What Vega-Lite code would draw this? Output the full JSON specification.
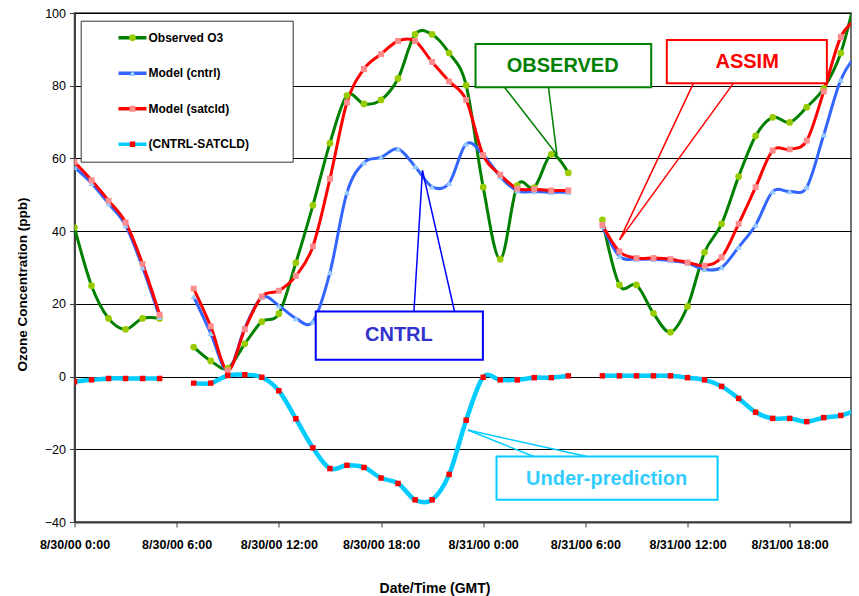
{
  "$schema": "https://vega.github.io/schema/vega-lite/v6.json",
  "width": 776.5,
  "height": 509,
  "autosize": {"type": "none"},
  "padding": {"left": 74.5, "top": 13, "right": 8, "bottom": 74},
  "config": {
    "font": "Liberation Sans",
    "view": {"stroke": "#444", "strokeWidth": 1.5}
  },
  "datasets": {
    "ozone": [
      {"t": "2000-08-30T00:00", "seg": 1, "Observed O3": 41, "Model (cntrl)": 57.5, "Model (satcld)": 59.0, "(CNTRL-SATCLD)": -1.4},
      {"t": "2000-08-30T01:00", "seg": 1, "Observed O3": 25, "Model (cntrl)": 53.2, "Model (satcld)": 54.0, "(CNTRL-SATCLD)": -0.9},
      {"t": "2000-08-30T02:00", "seg": 1, "Observed O3": 16, "Model (cntrl)": 47.6, "Model (satcld)": 48.4, "(CNTRL-SATCLD)": -0.5},
      {"t": "2000-08-30T03:00", "seg": 1, "Observed O3": 13, "Model (cntrl)": 41.6, "Model (satcld)": 42.4, "(CNTRL-SATCLD)": -0.5},
      {"t": "2000-08-30T04:00", "seg": 1, "Observed O3": 16, "Model (cntrl)": 30.0, "Model (satcld)": 31.0, "(CNTRL-SATCLD)": -0.5},
      {"t": "2000-08-30T05:00", "seg": 1, "Observed O3": 16, "Model (cntrl)": 16.3, "Model (satcld)": 17.0, "(CNTRL-SATCLD)": -0.5},
      {"t": "2000-08-30T07:00", "seg": 2, "Observed O3": 8.1, "Model (cntrl)": 22.0, "Model (satcld)": 24.2, "(CNTRL-SATCLD)": -1.8},
      {"t": "2000-08-30T08:00", "seg": 2, "Observed O3": 4.3, "Model (cntrl)": 11.9, "Model (satcld)": 13.8, "(CNTRL-SATCLD)": -1.8},
      {"t": "2000-08-30T09:00", "seg": 2, "Observed O3": 2.3, "Model (cntrl)": 1.6, "Model (satcld)": 1.7, "(CNTRL-SATCLD)": 0.3},
      {"t": "2000-08-30T10:00", "seg": 2, "Observed O3": 9.0, "Model (cntrl)": 13.3, "Model (satcld)": 13.0, "(CNTRL-SATCLD)": 0.5},
      {"t": "2000-08-30T11:00", "seg": 2, "Observed O3": 15.1, "Model (cntrl)": 21.8, "Model (satcld)": 22.0, "(CNTRL-SATCLD)": -0.2},
      {"t": "2000-08-30T12:00", "seg": 2, "Observed O3": 17.3, "Model (cntrl)": 19.5, "Model (satcld)": 23.6, "(CNTRL-SATCLD)": -3.9},
      {"t": "2000-08-30T13:00", "seg": 2, "Observed O3": 31.3, "Model (cntrl)": 16.0, "Model (satcld)": 27.7, "(CNTRL-SATCLD)": -11.6},
      {"t": "2000-08-30T14:00", "seg": 2, "Observed O3": 47.1, "Model (cntrl)": 15.1, "Model (satcld)": 35.8, "(CNTRL-SATCLD)": -19.6},
      {"t": "2000-08-30T15:00", "seg": 2, "Observed O3": 64.2, "Model (cntrl)": 28.6, "Model (satcld)": 54.4, "(CNTRL-SATCLD)": -25.3},
      {"t": "2000-08-30T16:00", "seg": 2, "Observed O3": 77.3, "Model (cntrl)": 50.6, "Model (satcld)": 75.4, "(CNTRL-SATCLD)": -24.4},
      {"t": "2000-08-30T17:00", "seg": 2, "Observed O3": 75.0, "Model (cntrl)": 58.9, "Model (satcld)": 84.6, "(CNTRL-SATCLD)": -25.0},
      {"t": "2000-08-30T18:00", "seg": 2, "Observed O3": 76.1, "Model (cntrl)": 60.3, "Model (satcld)": 88.7, "(CNTRL-SATCLD)": -27.9},
      {"t": "2000-08-30T19:00", "seg": 2, "Observed O3": 82.0, "Model (cntrl)": 62.6, "Model (satcld)": 92.3, "(CNTRL-SATCLD)": -29.4},
      {"t": "2000-08-30T20:00", "seg": 2, "Observed O3": 94.1, "Model (cntrl)": 57.8, "Model (satcld)": 92.3, "(CNTRL-SATCLD)": -33.9},
      {"t": "2000-08-30T21:00", "seg": 2, "Observed O3": 94.1, "Model (cntrl)": 52.2, "Model (satcld)": 86.5, "(CNTRL-SATCLD)": -33.9},
      {"t": "2000-08-30T22:00", "seg": 2, "Observed O3": 89.0, "Model (cntrl)": 53.2, "Model (satcld)": 81.2, "(CNTRL-SATCLD)": -26.9},
      {"t": "2000-08-30T23:00", "seg": 2, "Observed O3": 80.1, "Model (cntrl)": 64.0, "Model (satcld)": 76.1, "(CNTRL-SATCLD)": -12.0},
      {"t": "2000-08-31T00:00", "seg": 2, "Observed O3": 52.1, "Model (cntrl)": 61.0, "Model (satcld)": 60.9, "(CNTRL-SATCLD)": -0.2},
      {"t": "2000-08-31T01:00", "seg": 2, "Observed O3": 32.3, "Model (cntrl)": 55.0, "Model (satcld)": 55.5, "(CNTRL-SATCLD)": -0.9},
      {"t": "2000-08-31T02:00", "seg": 2, "Observed O3": 52.5, "Model (cntrl)": 51.1, "Model (satcld)": 51.7, "(CNTRL-SATCLD)": -0.9},
      {"t": "2000-08-31T03:00", "seg": 2, "Observed O3": 52.0, "Model (cntrl)": 50.9, "Model (satcld)": 51.5, "(CNTRL-SATCLD)": -0.3},
      {"t": "2000-08-31T04:00", "seg": 2, "Observed O3": 61.1, "Model (cntrl)": 50.7, "Model (satcld)": 51.2, "(CNTRL-SATCLD)": -0.3},
      {"t": "2000-08-31T05:00", "seg": 2, "Observed O3": 56.0, "Model (cntrl)": 50.7, "Model (satcld)": 51.2, "(CNTRL-SATCLD)": 0.2},
      {"t": "2000-08-31T07:00", "seg": 3, "Observed O3": 43.1, "Model (cntrl)": 41.3, "Model (satcld)": 41.7, "(CNTRL-SATCLD)": 0.2},
      {"t": "2000-08-31T08:00", "seg": 3, "Observed O3": 25.2, "Model (cntrl)": 33.1, "Model (satcld)": 34.4, "(CNTRL-SATCLD)": 0.2},
      {"t": "2000-08-31T09:00", "seg": 3, "Observed O3": 25.2, "Model (cntrl)": 32.3, "Model (satcld)": 32.6, "(CNTRL-SATCLD)": 0.2},
      {"t": "2000-08-31T10:00", "seg": 3, "Observed O3": 17.4, "Model (cntrl)": 32.3, "Model (satcld)": 32.6, "(CNTRL-SATCLD)": 0.2},
      {"t": "2000-08-31T11:00", "seg": 3, "Observed O3": 12.2, "Model (cntrl)": 31.9, "Model (satcld)": 32.3, "(CNTRL-SATCLD)": 0.2},
      {"t": "2000-08-31T12:00", "seg": 3, "Observed O3": 19.3, "Model (cntrl)": 31.2, "Model (satcld)": 31.4, "(CNTRL-SATCLD)": -0.3},
      {"t": "2000-08-31T13:00", "seg": 3, "Observed O3": 34.2, "Model (cntrl)": 29.5, "Model (satcld)": 30.5, "(CNTRL-SATCLD)": -0.9},
      {"t": "2000-08-31T14:00", "seg": 3, "Observed O3": 42.0, "Model (cntrl)": 30.0, "Model (satcld)": 32.8, "(CNTRL-SATCLD)": -2.7},
      {"t": "2000-08-31T15:00", "seg": 3, "Observed O3": 55.0, "Model (cntrl)": 35.6, "Model (satcld)": 42.0, "(CNTRL-SATCLD)": -6.0},
      {"t": "2000-08-31T16:00", "seg": 3, "Observed O3": 66.2, "Model (cntrl)": 41.7, "Model (satcld)": 52.1, "(CNTRL-SATCLD)": -9.8},
      {"t": "2000-08-31T17:00", "seg": 3, "Observed O3": 71.3, "Model (cntrl)": 50.9, "Model (satcld)": 62.2, "(CNTRL-SATCLD)": -11.5},
      {"t": "2000-08-31T18:00", "seg": 3, "Observed O3": 69.9, "Model (cntrl)": 50.9, "Model (satcld)": 62.5, "(CNTRL-SATCLD)": -11.5},
      {"t": "2000-08-31T19:00", "seg": 3, "Observed O3": 74.1, "Model (cntrl)": 52.1, "Model (satcld)": 64.9, "(CNTRL-SATCLD)": -12.4},
      {"t": "2000-08-31T20:00", "seg": 3, "Observed O3": 79.3, "Model (cntrl)": 66.5, "Model (satcld)": 78.4, "(CNTRL-SATCLD)": -11.3},
      {"t": "2000-08-31T21:00", "seg": 3, "Observed O3": 89.0, "Model (cntrl)": 81.6, "Model (satcld)": 93.4, "(CNTRL-SATCLD)": -10.7},
      {"t": "2000-08-31T22:00", "seg": 3, "Observed O3": 107.0, "Model (cntrl)": 89.0, "Model (satcld)": 98.5, "(CNTRL-SATCLD)": -9.0}
    ],
    "boxes": [
      {"label": "OBSERVED", "x1": "2000-08-30T23:33", "x2": "2000-08-31T09:52", "y1": 91.45, "y2": 79.6, "tx": "2000-08-31T04:40", "ty": 85.4},
      {"label": "ASSIM", "x1": "2000-08-31T10:47", "x2": "2000-08-31T20:11", "y1": 92.6, "y2": 80.7, "tx": "2000-08-31T15:30", "ty": 86.6},
      {"label": "CNTRL", "x1": "2000-08-30T14:10", "x2": "2000-08-30T23:59", "y1": 17.9, "y2": 4.6, "tx": "2000-08-30T19:03", "ty": 11.4},
      {"label": "Under-prediction", "x1": "2000-08-31T00:47", "x2": "2000-08-31T13:46", "y1": -22.0, "y2": -33.9, "tx": "2000-08-31T07:15", "ty": -28.1}
    ],
    "callouts": [
      {"label": "OBSERVED", "xa": "2000-08-31T01:15", "ya": 79.6, "xb": "2000-08-31T04:20", "yb": 61.0},
      {"label": "OBSERVED", "xa": "2000-08-31T03:50", "ya": 79.6, "xb": "2000-08-31T04:20", "yb": 61.0},
      {"label": "ASSIM", "xa": "2000-08-31T12:21", "ya": 80.7, "xb": "2000-08-31T08:01", "yb": 37.6},
      {"label": "ASSIM", "xa": "2000-08-31T14:42", "ya": 80.7, "xb": "2000-08-31T08:01", "yb": 37.6},
      {"label": "CNTRL", "xa": "2000-08-30T19:56", "ya": 17.9, "xb": "2000-08-30T20:26", "yb": 56.7},
      {"label": "CNTRL", "xa": "2000-08-30T22:19", "ya": 17.9, "xb": "2000-08-30T20:26", "yb": 56.7},
      {"label": "Under-prediction", "xa": "2000-08-31T02:58", "ya": -22.0, "xb": "2000-08-30T23:06", "yb": -14.7},
      {"label": "Under-prediction", "xa": "2000-08-31T06:06", "ya": -22.0, "xb": "2000-08-30T23:06", "yb": -14.7}
    ]
  },
  "layer": [
    {
      "data": {"name": "ozone"},
      "transform": [{"fold": ["Observed O3", "Model (cntrl)", "Model (satcld)", "(CNTRL-SATCLD)"], "as": ["series", "value"]}],
      "mark": {"type": "line", "interpolate": "cardinal", "clip": true},
      "encoding": {
        "x": {
          "field": "t", "type": "temporal",
          "scale": {"domain": [{"year": 2000, "month": 8, "date": 30, "hours": 0}, {"year": 2000, "month": 8, "date": 31, "hours": 21, "minutes": 36}]},
          "axis": {
            "title": "Date/Time (GMT)",
            "values": [
              {"year": 2000, "month": 8, "date": 30, "hours": 0},
              {"year": 2000, "month": 8, "date": 30, "hours": 6},
              {"year": 2000, "month": 8, "date": 30, "hours": 12},
              {"year": 2000, "month": 8, "date": 30, "hours": 18},
              {"year": 2000, "month": 8, "date": 31, "hours": 0},
              {"year": 2000, "month": 8, "date": 31, "hours": 6},
              {"year": 2000, "month": 8, "date": 31, "hours": 12},
              {"year": 2000, "month": 8, "date": 31, "hours": 18}
            ],
            "format": "%-m/%d/%y %-H:%M",
            "labelFont": "Liberation Sans", "labelFontSize": 12.5, "labelFontWeight": "bold", "labelColor": "#000",
            "labelPadding": 11, "labelFlush": false, "labelOverlap": false,
            "tickSize": 5, "tickColor": "#404040", "domainColor": "#404040", "domainWidth": 2,
            "grid": false,
            "titleFont": "Liberation Sans", "titleFontSize": 14, "titleFontWeight": "bold", "titleColor": "#000",
            "titleX": 360, "titleY": 66, "titleAlign": "center", "titleBaseline": "middle"
          }
        },
        "y": {
          "field": "value", "type": "quantitative",
          "scale": {"domain": [-40, 100], "nice": false, "zero": false},
          "axis": {
            "title": "Ozone Concentration (ppb)",
            "values": [-40, -20, 0, 20, 40, 60, 80, 100],
            "labelFont": "Liberation Sans", "labelFontSize": 12.5, "labelColor": "#000", "labelPadding": 4,
            "tickSize": 5, "tickColor": "#404040", "domainColor": "#404040", "domainWidth": 2,
            "grid": true, "gridColor": "#000", "gridWidth": 1,
            "titleFont": "Liberation Sans", "titleFontSize": 13.5, "titleFontWeight": "bold", "titleColor": "#000",
            "titleX": -52.5, "titleY": 271, "titleAlign": "center", "titleBaseline": "middle", "titleAngle": -90
          }
        },
        "color": {
          "field": "series", "type": "nominal",
          "sort": ["Observed O3", "Model (cntrl)", "Model (satcld)", "(CNTRL-SATCLD)"],
          "scale": {"range": ["#008000", "#3366FF", "#FF0000", "#00CCFF"]},
          "legend": {
            "orient": "none", "legendX": 6.2, "legendY": 7.7, "title": null,
            "symbolType": "stroke", "symbolSize": 784, "symbolStrokeWidth": 3.5,
            "symbolOffset": 28.8, "labelOffset": 0,
            "labelFont": "Liberation Sans", "labelFontSize": 12, "labelFontWeight": "bold", "labelColor": "#000",
            "labelExpr": "datum.label + '\u2800\u2800\u2800\u2800'",
            "clipHeight": 20, "rowPadding": 15.5, "padding": 7,
            "strokeColor": "#333", "fillColor": "#fff", "zindex": 1
          }
        },
        "strokeWidth": {"condition": {"test": "datum.series === '(CNTRL-SATCLD)'", "value": 4.5}, "value": 3},
        "detail": {"field": "seg", "type": "nominal"}
      }
    },
    {
      "data": {"name": "ozone"},
      "transform": [{"fold": ["Observed O3", "Model (cntrl)", "Model (satcld)", "(CNTRL-SATCLD)"], "as": ["marker", "value"]}],
      "mark": {"type": "point", "filled": true, "opacity": 1, "clip": true, "strokeWidth": 0},
      "encoding": {
        "x": {"field": "t", "type": "temporal"},
        "y": {"field": "value", "type": "quantitative"},
        "fill": {
          "field": "marker", "type": "nominal",
          "scale": {"domain": ["Observed O3", "Model (cntrl)", "Model (satcld)", "(CNTRL-SATCLD)"], "range": ["#99CC00", "#99CCFF", "#FF8C8C", "#FF0000"]},
          "legend": {
            "orient": "none", "legendX": 6.2, "legendY": 7.7, "title": null,
            "symbolOffset": 36.8, "labelOffset": 0,
            "labelFontSize": 16, "labelExpr": "''",
            "clipHeight": 20, "rowPadding": 15.5, "padding": 7, "symbolStrokeWidth": 0, "zindex": 2
          }
        },
        "shape": {
          "field": "marker", "type": "nominal",
          "scale": {"domain": ["Observed O3", "Model (cntrl)", "Model (satcld)", "(CNTRL-SATCLD)"], "range": ["circle", "triangle-up", "square", "square"]}
        },
        "size": {
          "field": "marker", "type": "nominal",
          "scale": {"domain": ["Observed O3", "Model (cntrl)", "Model (satcld)", "(CNTRL-SATCLD)"], "range": [45, 30, 30, 7]}
        }
      }
    },
    {
      "data": {"name": "callouts"},
      "transform": [{"filter": "datum.label === 'OBSERVED'"}],
      "mark": {"type": "rule", "color": "#008000", "strokeWidth": 1.5},
      "encoding": {"x": {"field": "xa", "type": "temporal"}, "y": {"field": "ya", "type": "quantitative"}, "x2": {"field": "xb"}, "y2": {"field": "yb"}}
    },
    {
      "data": {"name": "callouts"},
      "transform": [{"filter": "datum.label === 'ASSIM'"}],
      "mark": {"type": "rule", "color": "#FF0000", "strokeWidth": 1.5},
      "encoding": {"x": {"field": "xa", "type": "temporal"}, "y": {"field": "ya", "type": "quantitative"}, "x2": {"field": "xb"}, "y2": {"field": "yb"}}
    },
    {
      "data": {"name": "callouts"},
      "transform": [{"filter": "datum.label === 'CNTRL'"}],
      "mark": {"type": "rule", "color": "#0000FF", "strokeWidth": 1.5},
      "encoding": {"x": {"field": "xa", "type": "temporal"}, "y": {"field": "ya", "type": "quantitative"}, "x2": {"field": "xb"}, "y2": {"field": "yb"}}
    },
    {
      "data": {"name": "callouts"},
      "transform": [{"filter": "datum.label === 'Under-prediction'"}],
      "mark": {"type": "rule", "color": "#00CCFF", "strokeWidth": 1.5},
      "encoding": {"x": {"field": "xa", "type": "temporal"}, "y": {"field": "ya", "type": "quantitative"}, "x2": {"field": "xb"}, "y2": {"field": "yb"}}
    },
    {
      "data": {"name": "boxes"},
      "transform": [{"filter": "datum.label === 'OBSERVED'"}],
      "mark": {"type": "rect", "fill": "#fff", "stroke": "#008000", "strokeWidth": 2},
      "encoding": {"x": {"field": "x1", "type": "temporal"}, "x2": {"field": "x2"}, "y": {"field": "y1", "type": "quantitative"}, "y2": {"field": "y2"}}
    },
    {
      "data": {"name": "boxes"},
      "transform": [{"filter": "datum.label === 'ASSIM'"}],
      "mark": {"type": "rect", "fill": "#fff", "stroke": "#FF0000", "strokeWidth": 2},
      "encoding": {"x": {"field": "x1", "type": "temporal"}, "x2": {"field": "x2"}, "y": {"field": "y1", "type": "quantitative"}, "y2": {"field": "y2"}}
    },
    {
      "data": {"name": "boxes"},
      "transform": [{"filter": "datum.label === 'CNTRL'"}],
      "mark": {"type": "rect", "fill": "#fff", "stroke": "#0000FF", "strokeWidth": 2},
      "encoding": {"x": {"field": "x1", "type": "temporal"}, "x2": {"field": "x2"}, "y": {"field": "y1", "type": "quantitative"}, "y2": {"field": "y2"}}
    },
    {
      "data": {"name": "boxes"},
      "transform": [{"filter": "datum.label === 'Under-prediction'"}],
      "mark": {"type": "rect", "fill": "#fff", "stroke": "#00CCFF", "strokeWidth": 2},
      "encoding": {"x": {"field": "x1", "type": "temporal"}, "x2": {"field": "x2"}, "y": {"field": "y1", "type": "quantitative"}, "y2": {"field": "y2"}}
    },
    {
      "data": {"name": "boxes"},
      "transform": [{"filter": "datum.label === 'OBSERVED'"}],
      "mark": {"type": "text", "font": "Liberation Sans", "fontSize": 20, "fontWeight": "bold", "color": "#008000"},
      "encoding": {"x": {"field": "tx", "type": "temporal"}, "y": {"field": "ty", "type": "quantitative"}, "text": {"field": "label"}}
    },
    {
      "data": {"name": "boxes"},
      "transform": [{"filter": "datum.label === 'ASSIM'"}],
      "mark": {"type": "text", "font": "Liberation Sans", "fontSize": 20, "fontWeight": "bold", "color": "#FF0000"},
      "encoding": {"x": {"field": "tx", "type": "temporal"}, "y": {"field": "ty", "type": "quantitative"}, "text": {"field": "label"}}
    },
    {
      "data": {"name": "boxes"},
      "transform": [{"filter": "datum.label === 'CNTRL'"}],
      "mark": {"type": "text", "font": "Liberation Sans", "fontSize": 20, "fontWeight": "bold", "color": "#3333CC"},
      "encoding": {"x": {"field": "tx", "type": "temporal"}, "y": {"field": "ty", "type": "quantitative"}, "text": {"field": "label"}}
    },
    {
      "data": {"name": "boxes"},
      "transform": [{"filter": "datum.label === 'Under-prediction'"}],
      "mark": {"type": "text", "font": "Liberation Sans", "fontSize": 20, "fontWeight": "bold", "color": "#33CCFF"},
      "encoding": {"x": {"field": "tx", "type": "temporal"}, "y": {"field": "ty", "type": "quantitative"}, "text": {"field": "label"}}
    }
  ]
}
